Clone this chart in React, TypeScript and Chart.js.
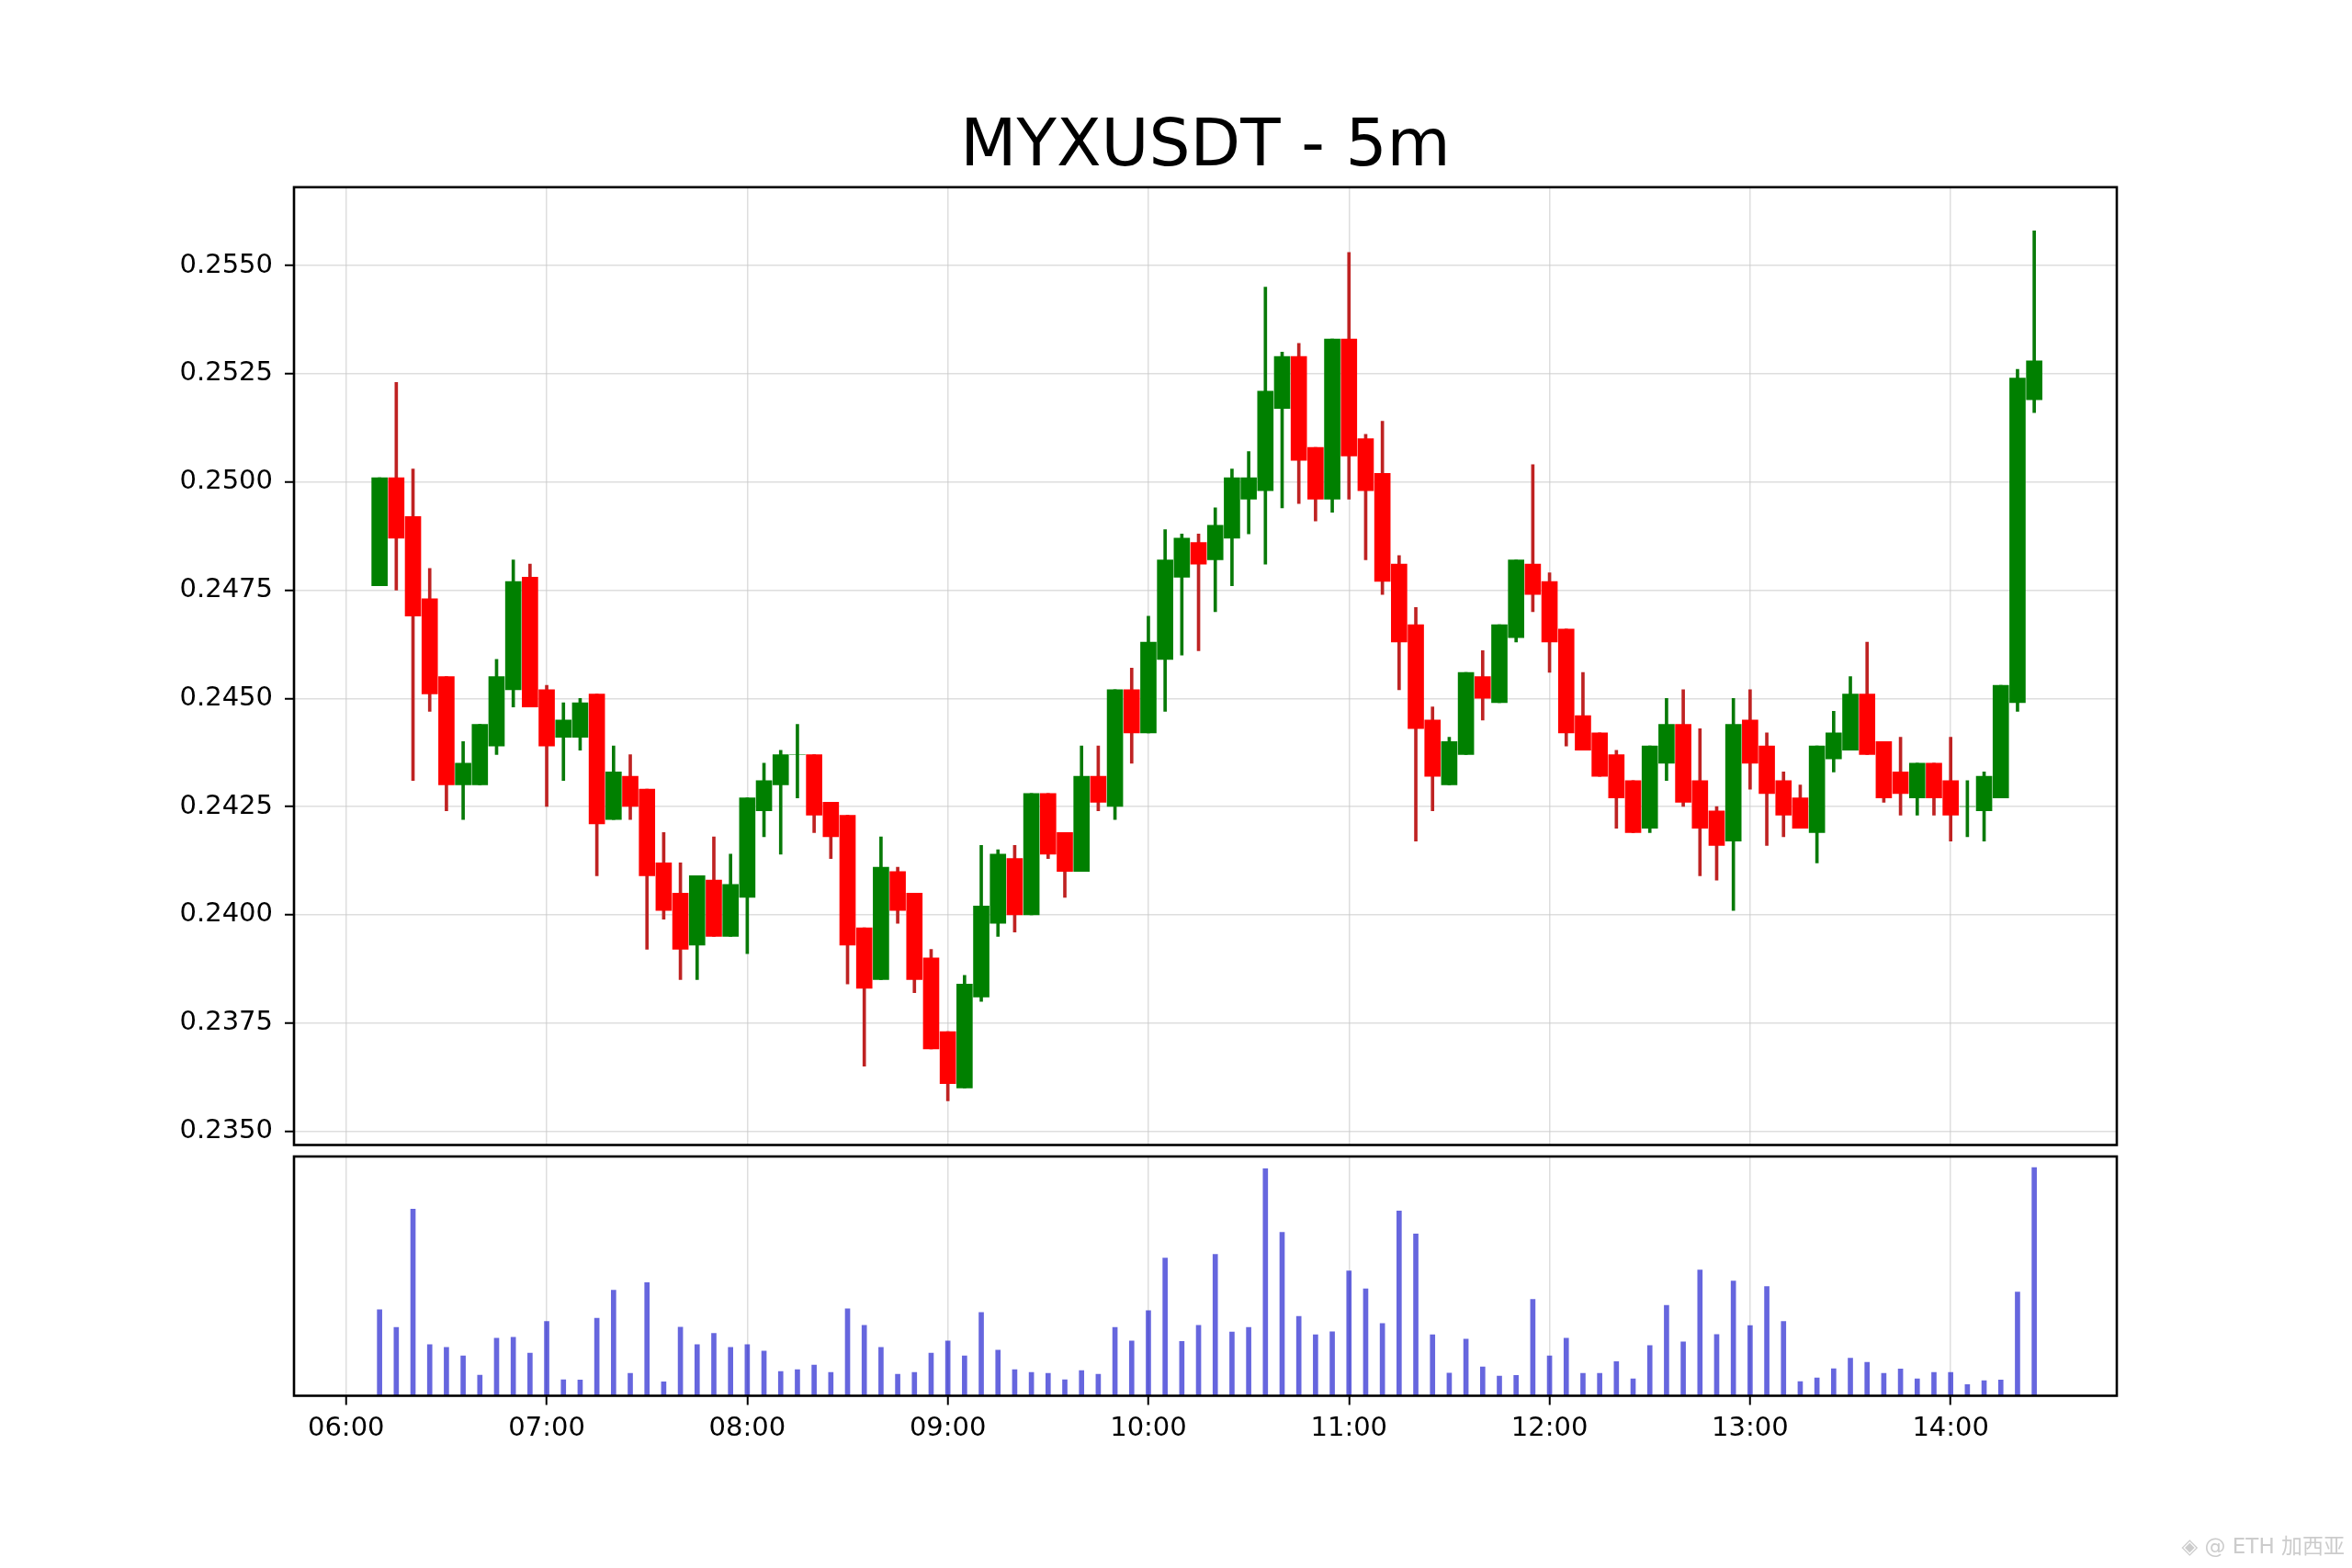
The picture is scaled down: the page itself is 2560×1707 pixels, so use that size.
import { useEffect, useRef } from "react";
import { Chart, registerables } from "chart.js";

Chart.register(...registerables);

const times = [
  "06:10", "06:15", "06:20", "06:25", "06:30", "06:35", "06:40", "06:45", "06:50", "06:55",
  "07:00", "07:05", "07:10", "07:15", "07:20", "07:25", "07:30", "07:35", "07:40", "07:45", "07:50", "07:55",
  "08:00", "08:05", "08:10", "08:15", "08:20", "08:25", "08:30", "08:35", "08:40", "08:45", "08:50", "08:55",
  "09:00", "09:05", "09:10", "09:15", "09:20", "09:25", "09:30", "09:35", "09:40", "09:45", "09:50", "09:55",
  "10:00", "10:05", "10:10", "10:15", "10:20", "10:25", "10:30", "10:35", "10:40", "10:45", "10:50", "10:55",
  "11:00", "11:05", "11:10", "11:15", "11:20", "11:25", "11:30", "11:35", "11:40", "11:45", "11:50", "11:55",
  "12:00", "12:05", "12:10", "12:15", "12:20", "12:25", "12:30", "12:35", "12:40", "12:45", "12:50", "12:55",
  "13:00", "13:05", "13:10", "13:15", "13:20", "13:25", "13:30", "13:35", "13:40", "13:45", "13:50", "13:55",
  "14:00", "14:05", "14:10", "14:15", "14:20", "14:25",
];

const opens = [
  0.2476, 0.2501, 0.2492, 0.2473, 0.2455, 0.2430, 0.2430, 0.2439, 0.2452, 0.2478,
  0.2452, 0.2441, 0.2441, 0.2451, 0.2422, 0.2432, 0.2429, 0.2412, 0.2405, 0.2393, 0.2408, 0.2395,
  0.2404, 0.2424, 0.2430, 0.2437, 0.2437, 0.2426, 0.2423, 0.2397, 0.2385, 0.2410, 0.2405, 0.2390,
  0.2373, 0.2360, 0.2381, 0.2398, 0.2413, 0.2400, 0.2428, 0.2419, 0.2410, 0.2432, 0.2425, 0.2452,
  0.2442, 0.2459, 0.2478, 0.2486, 0.2482, 0.2487, 0.2496, 0.2498, 0.2517, 0.2529, 0.2508, 0.2496,
  0.2533, 0.2510, 0.2502, 0.2481, 0.2467, 0.2445, 0.2430, 0.2437, 0.2455, 0.2449, 0.2464, 0.2481,
  0.2477, 0.2466, 0.2446, 0.2442, 0.2437, 0.2431, 0.2420, 0.2435, 0.2444, 0.2431, 0.2424, 0.2417,
  0.2445, 0.2439, 0.2431, 0.2427, 0.2419, 0.2436, 0.2438, 0.2451, 0.2440, 0.2433, 0.2427, 0.2435,
  0.2431, 0.2425, 0.2424, 0.2427, 0.2449, 0.2519,
];

const highs = [
  0.2501, 0.2523, 0.2503, 0.2480, 0.2455, 0.2440, 0.2444, 0.2459, 0.2482, 0.2481,
  0.2453, 0.2449, 0.2450, 0.2451, 0.2439, 0.2437, 0.2429, 0.2419, 0.2412, 0.2409, 0.2418, 0.2414,
  0.2427, 0.2435, 0.2438, 0.2444, 0.2437, 0.2426, 0.2423, 0.2397, 0.2418, 0.2411, 0.2405, 0.2392,
  0.2373, 0.2386, 0.2416, 0.2415, 0.2416, 0.2428, 0.2428, 0.2419, 0.2439, 0.2439, 0.2452, 0.2457,
  0.2469, 0.2489, 0.2488, 0.2488, 0.2494, 0.2503, 0.2507, 0.2545, 0.2530, 0.2532, 0.2508, 0.2533,
  0.2553, 0.2511, 0.2514, 0.2483, 0.2471, 0.2448, 0.2441, 0.2456, 0.2461, 0.2467, 0.2482, 0.2504,
  0.2479, 0.2466, 0.2456, 0.2442, 0.2438, 0.2431, 0.2439, 0.2450, 0.2452, 0.2443, 0.2425, 0.2450,
  0.2452, 0.2442, 0.2433, 0.2430, 0.2439, 0.2447, 0.2455, 0.2463, 0.2440, 0.2441, 0.2435, 0.2435,
  0.2441, 0.2431, 0.2433, 0.2453, 0.2526, 0.2558,
];

const lows = [
  0.2476, 0.2475, 0.2431, 0.2447, 0.2424, 0.2422, 0.2430, 0.2437, 0.2448, 0.2448,
  0.2425, 0.2431, 0.2438, 0.2409, 0.2422, 0.2422, 0.2392, 0.2399, 0.2385, 0.2385, 0.2395, 0.2395,
  0.2391, 0.2418, 0.2414, 0.2427, 0.2419, 0.2413, 0.2384, 0.2365, 0.2385, 0.2398, 0.2382, 0.2369,
  0.2357, 0.2360, 0.2380, 0.2395, 0.2396, 0.2400, 0.2413, 0.2404, 0.2410, 0.2424, 0.2422, 0.2435,
  0.2442, 0.2447, 0.2460, 0.2461, 0.2470, 0.2476, 0.2488, 0.2481, 0.2494, 0.2495, 0.2491, 0.2493,
  0.2496, 0.2482, 0.2474, 0.2452, 0.2417, 0.2424, 0.2430, 0.2437, 0.2445, 0.2449, 0.2463, 0.2470,
  0.2456, 0.2439, 0.2438, 0.2432, 0.2420, 0.2419, 0.2419, 0.2431, 0.2425, 0.2409, 0.2408, 0.2401,
  0.2429, 0.2416, 0.2418, 0.2420, 0.2412, 0.2433, 0.2438, 0.2437, 0.2426, 0.2423, 0.2423, 0.2423,
  0.2417, 0.2418, 0.2417, 0.2427, 0.2447, 0.2516,
];

const closes = [
  0.2501, 0.2487, 0.2469, 0.2451, 0.2430, 0.2435, 0.2444, 0.2455, 0.2477, 0.2448,
  0.2439, 0.2445, 0.2449, 0.2421, 0.2433, 0.2425, 0.2409, 0.2401, 0.2392, 0.2409, 0.2395, 0.2407,
  0.2427, 0.2431, 0.2437, 0.2437, 0.2423, 0.2418, 0.2393, 0.2383, 0.2411, 0.2401, 0.2385, 0.2369,
  0.2361, 0.2384, 0.2402, 0.2414, 0.2400, 0.2428, 0.2414, 0.2410, 0.2432, 0.2426, 0.2452, 0.2442,
  0.2463, 0.2482, 0.2487, 0.2481, 0.2490, 0.2501, 0.2501, 0.2521, 0.2529, 0.2505, 0.2496, 0.2533,
  0.2506, 0.2498, 0.2477, 0.2463, 0.2443, 0.2432, 0.2440, 0.2456, 0.2450, 0.2467, 0.2482, 0.2474,
  0.2463, 0.2442, 0.2438, 0.2432, 0.2427, 0.2419, 0.2439, 0.2444, 0.2426, 0.2420, 0.2416, 0.2444,
  0.2435, 0.2428, 0.2423, 0.2420, 0.2439, 0.2442, 0.2451, 0.2437, 0.2427, 0.2428, 0.2435, 0.2427,
  0.2423, 0.2425, 0.2432, 0.2453, 0.2524, 0.2528,
];

const volumes = [
  280, 222, 607, 166, 157, 130, 67, 187, 190, 139,
  242, 52, 51, 252, 343, 73, 368, 45, 223, 166, 203, 157,
  166, 145, 79, 85, 100, 76, 283, 229, 157, 70, 76, 139,
  178, 130, 271, 148, 85, 76, 73, 52, 82, 70, 222, 178,
  277, 448, 177, 229, 460, 207, 222, 738, 531, 258, 198, 208,
  406, 348, 235, 601, 526, 198, 74, 184, 94, 64, 66, 313,
  130, 187, 73, 73, 111, 55, 163, 294, 175, 409, 199, 373,
  228, 355, 242, 46, 58, 88, 122, 109, 73, 87, 55, 76,
  76, 36, 49, 51, 337, 742,
];

const hourTicks = ["06:00", "07:00", "08:00", "09:00", "10:00", "11:00", "12:00", "13:00", "14:00"];
const priceTicks = [0.235, 0.2375, 0.24, 0.2425, 0.245, 0.2475, 0.25, 0.2525, 0.255];

const toMin = (t: string) => Number(t.slice(0, 2)) * 60 + Number(t.slice(3));
const fmtHour = (v: number) => String(Math.floor(v / 60)).padStart(2, "0") + ":00";

const FONT = "'DejaVu Sans', sans-serif";
const GRID = "rgba(200, 200, 200, 0.6)";
const X_MIN = 344.4;
const X_MAX = 889.7;

// matplotlib-like spines round each panel
const framePlugin = {
  id: "frame",
  afterDraw(chart: Chart) {
    const { ctx, chartArea } = chart;
    ctx.save();
    ctx.strokeStyle = "#000";
    ctx.lineWidth = 2.6;
    ctx.strokeRect(chartArea.left, chartArea.top, chartArea.right - chartArea.left, chartArea.bottom - chartArea.top);
    ctx.restore();
  },
};

// stop Chart.js reserving room for overhanging tick labels
const noOverhang = (scale: any) => {
  scale.paddingTop = 0;
  scale.paddingBottom = 0;
  scale.paddingLeft = 0;
  scale.paddingRight = 0;
};

export default function App() {
  const priceRef = useRef<HTMLCanvasElement>(null);
  const volRef = useRef<HTMLCanvasElement>(null);

  useEffect(() => {
    document.body.style.margin = "0";
    if (!priceRef.current || !volRef.current) return;

    const xs = times.map(toMin);
    const up = opens.map((o, i) => closes[i] >= o);
    const hourVals = hourTicks.map(toMin);

    const priceChart = new Chart(priceRef.current, {
      type: "bar",
      data: {
        datasets: [
          {
            label: "body",
            data: xs.map((x, i) => ({ x, y: [opens[i], closes[i]] })) as any,
            backgroundColor: up.map((u) => (u ? "#008000" : "#ff0000")),
            barThickness: 17,
            grouped: false,
            borderWidth: 0,
          },
          {
            label: "wick",
            data: xs.map((x, i) => ({ x, y: [lows[i], highs[i]] })) as any,
            backgroundColor: up.map((u) => (u ? "#087a08" : "#bf2222")),
            barThickness: 3,
            grouped: false,
            borderWidth: 0,
          },
        ],
      },
      options: {
        responsive: false,
        animation: false,
        events: [],
        layout: { padding: { top: 107.6, left: 0, right: 256, bottom: 5.5 } },
        plugins: {
          legend: { display: false },
          tooltip: { enabled: false },
          title: {
            display: true,
            fullSize: false,
            text: "MYXUSDT - 5m",
            color: "#000",
            font: { family: FONT, size: 71, weight: "normal" },
            padding: { top: 11, bottom: 0 },
          },
        },
        scales: {
          x: {
            type: "linear",
            min: X_MIN,
            max: X_MAX,
            offset: false,
            afterBuildTicks: (scale: any) => {
              scale.ticks = hourVals.map((v) => ({ value: v }));
            },
            afterFit: (scale: any) => {
              scale.height = 0;
              noOverhang(scale);
            },
            ticks: { display: false },
            grid: { color: GRID, lineWidth: 1.5, drawTicks: false, offset: false },
            border: { display: false },
          },
          y: {
            type: "linear",
            min: 0.23468,
            max: 0.25681,
            afterBuildTicks: (scale: any) => {
              scale.ticks = priceTicks.map((v) => ({ value: v }));
            },
            afterFit: (scale: any) => {
              scale.width = 320;
              noOverhang(scale);
            },
            ticks: {
              color: "#000",
              font: { family: FONT, size: 29 },
              padding: 13,
              callback: (v: any) => Number(v).toFixed(4),
            },
            grid: { color: GRID, lineWidth: 1.5, tickColor: "#000", tickLength: 10, tickWidth: 2 },
            border: { display: false },
          },
        },
      },
      plugins: [framePlugin],
    });

    const volChart = new Chart(volRef.current, {
      type: "bar",
      data: {
        datasets: [
          {
            label: "volume",
            data: xs.map((x, i) => ({ x, y: volumes[i] })),
            backgroundColor: "rgba(0, 0, 200, 0.6)",
            barThickness: 5,
            borderWidth: 0,
          },
        ],
      },
      options: {
        responsive: false,
        animation: false,
        events: [],
        layout: { padding: { top: 7, left: 0, right: 256, bottom: 0 } },
        plugins: { legend: { display: false }, tooltip: { enabled: false } },
        scales: {
          x: {
            type: "linear",
            min: X_MIN,
            max: X_MAX,
            offset: false,
            afterBuildTicks: (scale: any) => {
              scale.ticks = hourVals.map((v) => ({ value: v }));
            },
            afterFit: (scale: any) => {
              scale.height = 187.5;
              noOverhang(scale);
            },
            ticks: {
              color: "#000",
              font: { family: FONT, size: 29 },
              padding: 9,
              maxRotation: 0,
              autoSkip: false,
              callback: (v: any) => fmtHour(Number(v)),
            },
            grid: { color: GRID, lineWidth: 1.5, tickColor: "#000", tickLength: 10, tickWidth: 2, offset: false },
            border: { display: false },
          },
          y: {
            type: "linear",
            min: 0,
            max: 778,
            afterFit: (scale: any) => {
              scale.width = 320;
              noOverhang(scale);
            },
            ticks: { display: false },
            grid: { display: false },
            border: { display: false },
          },
        },
      },
      plugins: [framePlugin],
    });

    return () => {
      priceChart.destroy();
      volChart.destroy();
    };
  }, []);

  return (
    <div style={{ position: "relative", width: 2560, height: 1707, background: "#fff", overflow: "hidden" }}>
      <canvas ref={priceRef} width={2560} height={1252} style={{ position: "absolute", left: 0, top: 0 }} />
      <canvas ref={volRef} width={2560} height={455} style={{ position: "absolute", left: 0, top: 1252 }} />
      <div
        style={{
          position: "absolute",
          right: 8,
          top: 1664,
          fontFamily: "'DejaVu Sans', 'Noto Sans CJK SC', sans-serif",
          fontSize: 23,
          color: "#cccccc",
          whiteSpace: "nowrap",
        }}
      >
        ◈ @ ETH 加西亚
      </div>
    </div>
  );
}
